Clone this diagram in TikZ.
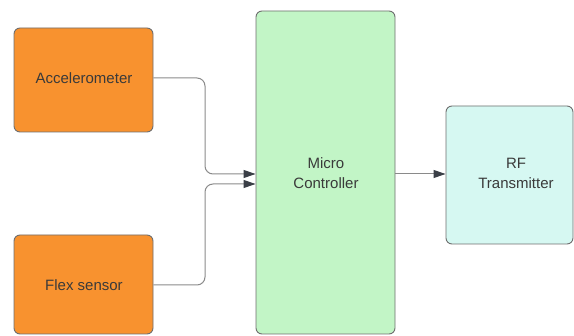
\documentclass[tikz,border=0pt]{standalone}
\usepackage{fontspec}
\setmainfont{Liberation Sans}
\usetikzlibrary{arrows.meta}
\definecolor{orangefill}{HTML}{F8922F}
\definecolor{greenfill}{HTML}{C2F5C6}
\definecolor{cyanfill}{HTML}{D6F8F2}
\definecolor{boxline}{HTML}{6E6E6E}
\definecolor{txt}{HTML}{3A3A3A}
\definecolor{wire}{HTML}{8A8A8A}
\definecolor{tipc}{HTML}{3A3F47}
\tikzset{
  blockbox/.style={draw=boxline, line width=0.9pt, rounded corners=6pt, inner sep=0pt},
  blocktext/.style={text=txt, font=\fontsize{15}{20}\selectfont, align=center, inner sep=0pt},
  conn/.style={draw=wire, line width=1pt, rounded corners=8pt, -{Triangle[length=12pt,width=8pt,fill=tipc,color=tipc]}}
}
\begin{document}
\begin{tikzpicture}[x=1pt,y=-1pt]
\useasboundingbox (0,0) rectangle (574,336);
% boxes
\node[blockbox, fill=orangefill, minimum width=139pt, minimum height=104pt] (acc) at (83.5,80) {};
\node[blocktext] (acct) at (84,78) {Accelerometer};
\node[blockbox, fill=orangefill, minimum width=139pt, minimum height=99pt] (flex) at (83.5,284.5) {};
\node[blocktext] (flext) at (84,285) {Flex sensor};
\node[blockbox, fill=greenfill, minimum width=139pt, minimum height=323pt] (mc) at (325.5,172.5) {};
\node[blocktext] (mct) at (326,173) {Micro\\Controller};
\node[blockbox, fill=cyanfill, minimum width=127pt, minimum height=138pt] (rf) at (509.5,175) {};
\node[blocktext] (rft) at (516,173) {RF\\Transmitter};
% connector waypoints
\coordinate (a1) at (205,78);
\coordinate (a2) at (205,174);
\coordinate (f1) at (205,285);
\coordinate (f2) at (205,184);
% connectors
\draw[conn] (acc.east |- acct) -- (a1) -- (a2) -- (mc.west |- a2);
\draw[conn] (flex.east |- flext) -- (f1) -- (f2) -- (mc.west |- f2);
\draw[conn] (mc.east |- a2) -- (rf.west |- a2);
\end{tikzpicture}
\end{document}
